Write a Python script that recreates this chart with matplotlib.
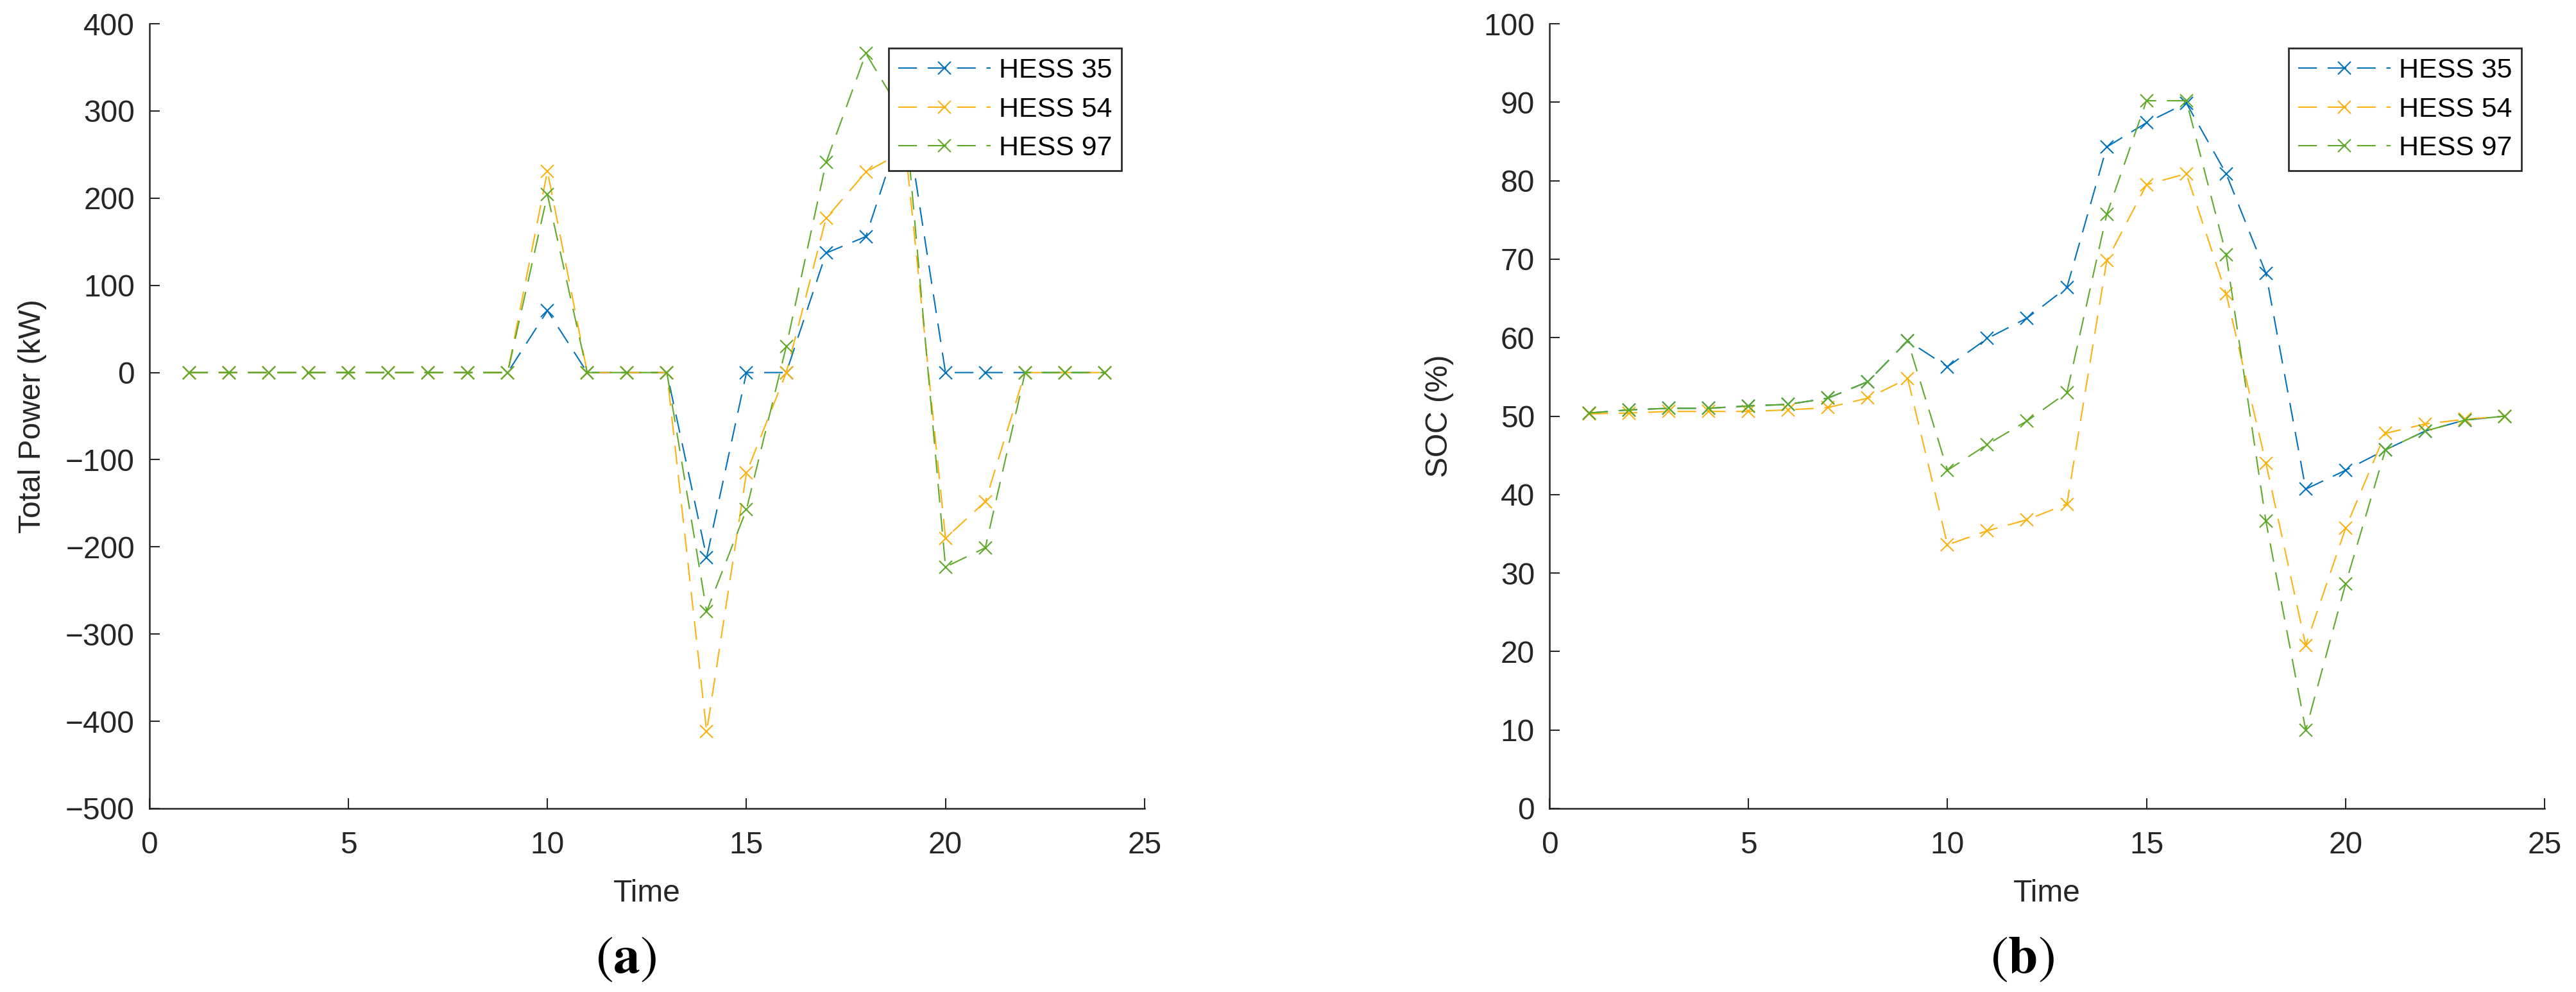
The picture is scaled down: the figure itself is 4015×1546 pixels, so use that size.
import matplotlib
matplotlib.use("Agg")
import matplotlib.pyplot as plt

# data
time = list(range(1, 25))
labels = ["HESS 35", "HESS 54", "HESS 97"]

power_35 = [0, 0, 0, 0, 0, 0, 0, 0, 0, 71, 0, 0, 0, -212, 0, 0, 137, 156, 295, 0, 0, 0, 0, 0]
power_54 = [0, 0, 0, 0, 0, 0, 0, 0, 0, 231, 0, 0, 0, -412, -115, 0, 177, 230, 255, -190, -148, 0, 0, 0]
power_97 = [0, 0, 0, 0, 0, 0, 0, 0, 0, 204, 0, 0, 0, -274, -157, 30, 241, 366, 290, -223, -201, 0, 0, 0]

soc_35 = [50.4, 50.8, 51.0, 51.0, 51.3, 51.5, 52.3, 54.4, 59.6, 56.3, 59.9, 62.5,
          66.4, 84.3, 87.4, 89.9, 80.9, 68.2, 40.7, 43.1, 45.7, 48.1, 49.5, 50.0]
soc_54 = [50.3, 50.4, 50.6, 50.6, 50.6, 50.8, 51.1, 52.3, 54.8, 33.6, 35.4, 36.8,
          38.8, 69.8, 79.5, 80.9, 65.6, 44.0, 20.8, 35.7, 47.8, 49.0, 49.6, 50.0]
soc_97 = [50.4, 50.8, 51.0, 51.0, 51.3, 51.5, 52.3, 54.4, 59.6, 43.1, 46.4, 49.4,
          53.0, 75.7, 90.2, 90.2, 70.6, 36.6, 10.0, 28.6, 45.7, 48.1, 49.5, 50.0]

colors = ["#0072BD", "#FDB10F", "#5EAA28"]
ink = "#262626"

plt.rcParams["font.family"] = ["Liberation Sans", "DejaVu Sans"]
plt.rcParams["font.size"] = 11.5
plt.rcParams["mathtext.fontset"] = "stix"
plt.rcParams["lines.scale_dashes"] = False

fig = plt.figure(figsize=(4015 / 300, 1546 / 300), dpi=300)
ax1 = fig.add_axes([0.0580, 0.185, 0.3863, 0.791])
ax2 = fig.add_axes([0.6015, 0.185, 0.3863, 0.791])


def draw(ax, series, ylim, yticks, ylabel, ypad):
    for vals, c, lab in zip(series, colors, labels):
        ax.plot(time, vals, color=c, linestyle=(0, (7, 4)), linewidth=0.5,
                marker="x", markersize=5, markeredgewidth=0.5, label=lab)
    ax.set_xlim(0, 25)
    ax.set_ylim(*ylim)
    ax.set_xticks(range(0, 26, 5))
    ax.set_yticks(yticks)
    ax.spines["top"].set_visible(False)
    ax.spines["right"].set_visible(False)
    for s in ("left", "bottom"):
        ax.spines[s].set_color(ink)
        ax.spines[s].set_linewidth(0.6)
    ax.tick_params(direction="in", length=3.8, width=0.5, colors=ink, labelcolor=ink)
    ax.tick_params(axis="x", pad=8.5)
    ax.tick_params(axis="y", pad=5.5)
    ax.set_xlabel("Time", color=ink, labelpad=7)
    ax.set_ylabel(ylabel, color=ink, labelpad=ypad)
    leg = ax.legend(loc="upper right", bbox_to_anchor=(0.977, 0.969), borderaxespad=0,
                    fancybox=False, framealpha=1, edgecolor=ink, fontsize=10.3,
                    handlelength=3.36, handletextpad=0.3, labelspacing=0.48,
                    borderpad=0.35, numpoints=1)
    leg.get_frame().set_linewidth(0.65)


draw(ax1, [power_35, power_54, power_97], (-500, 400), range(-500, 401, 100),
     "Total Power (kW)", 7)
draw(ax2, [soc_35, soc_54, soc_97], (0, 100), range(0, 101, 10), "SOC (%)", 11)

fig.text(976 / 4015, 1 - 1494 / 1546, r"$\mathrm{(}\mathbf{a}\mathrm{)}$", fontsize=20,
         ha="center", va="center")
fig.text(3152 / 4015, 1 - 1494 / 1546, r"$\mathrm{(}\mathbf{b}\mathrm{)}$", fontsize=20,
         ha="center", va="center")

fig.savefig("out.png", dpi=300)
